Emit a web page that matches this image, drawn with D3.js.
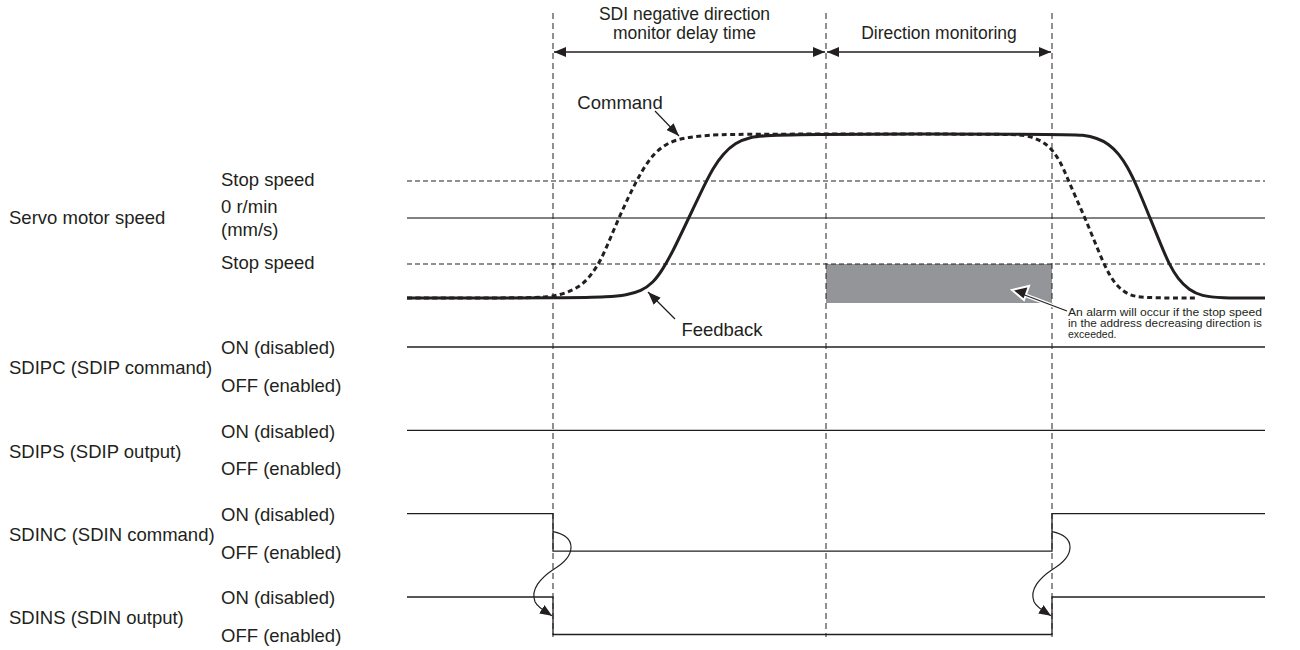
<!DOCTYPE html>
<html>
<head>
<meta charset="utf-8">
<script src="https://cdn.jsdelivr.net/npm/d3@7"></script>
<style>
    body { margin: 0; background: #fff; }
    text { font-family: "Liberation Sans", Arial, sans-serif; fill: #231f20; }
</style>
</head>
<body>
<div id="chart"></div>
<script>
// time axis in ms, speed in r/min (arbitrary plot units)
var eventTimes = [146, 419, 645];
var periodLabels = [["SDI negative direction", "monitor delay time"], ["Direction monitoring"]];

var speedHigh = 84, speedLow = -80;
var stopSpeeds = [37, -46];

var commandData = [[0,-80],[123,-80],[140,-79],[153,-77],[166,-72],[176,-66],[185,-56],[194,-42],[203,-21],[211,-2],
    [221,20],[230,38],[238,52],[246,63],[256,72],[268,78],[283,81],[303,83],[330,84],[603,84],[616,83],[628,80],
    [638,75],[646,67],[653,57],[660,41],[669,20],[678,0],[687,-22],[696,-44],[704,-60],[712,-70],[722,-77],
    [735,-80],[790,-80]];
var feedbackData = [[0,-80],[170,-80],[200,-79],[220,-77],[234,-73],[246,-65],[256,-51],[266,-33],[276,-12],[286,9],
    [296,30],[306,50],[316,64],[328,75],[343,81],[365,84],[660,84],[676,83],[690,80],[702,74],[712,64],[720,52],
    [730,32],[743,0],[754,-27],[762,-46],[771,-61],[782,-72],[795,-78],[812,-80],[858,-80]];

var signalNames = ["SDIPC (SDIP command)", "SDIPS (SDIP output)", "SDINC (SDIN command)", "SDINS (SDIN output)"];
var stateTimes = [0, 146, 645, 858];
var signalStates = [[1,1,1,1],[1,1,1,1],[1,0,1,1],[1,0,1,1]];
var levelNames = ["ON (disabled)", "OFF (enabled)"];

var alarmText = ["An alarm will occur if the stop speed", "in the address decreasing direction is", "exceeded."];

var w = 1300, h = 650;
var ink = "#231f20";
var fs = 18.5;

var x = d3.scaleLinear().domain([0, 858]).range([407, 1265]);
var y = d3.scaleLinear().domain([speedLow, speedHigh]).range([298, 134]);
var row = d3.scaleLinear().domain([0, 3]).range([347, 597]);
var level = d3.scaleLinear().domain([0, 1]).range([37.5, 0]);

var svg = d3.select("#chart").append("svg")
    .attr("width", w)
    .attr("height", h);

var defs = svg.append("defs");
function marker(id, wd, ht) {
    defs.append("marker")
        .attr("id", id)
        .attr("viewBox", "0 0 " + wd + " " + ht)
        .attr("refX", wd).attr("refY", ht / 2)
        .attr("markerWidth", wd).attr("markerHeight", ht)
        .attr("markerUnits", "userSpaceOnUse")
        .attr("orient", "auto-start-reverse")
        .append("path")
        .attr("d", "M0,0L" + wd + "," + (ht / 2) + "L0," + ht + "Z")
        .attr("fill", ink);
}
marker("dimArrow", 12, 10);
marker("callArrow", 13, 10);
marker("curlArrow", 12, 10);

// grey alarm zone
svg.append("rect")
    .attr("x", x(eventTimes[1]))
    .attr("y", y(stopSpeeds[1]))
    .attr("width", x(eventTimes[2]) - x(eventTimes[1]))
    .attr("height", y(speedLow) - y(stopSpeeds[1]) + 5)
    .attr("fill", "#939598");

// speed reference lines
svg.selectAll(".stopLine")
    .data(stopSpeeds)
    .enter().append("line")
    .attr("x1", x(0)).attr("x2", x(858))
    .attr("y1", function (d) { return y(d); })
    .attr("y2", function (d) { return y(d); })
    .attr("stroke", ink).attr("stroke-width", 1)
    .attr("stroke-dasharray", "5,3");

svg.append("line")
    .attr("x1", x(0)).attr("x2", x(858))
    .attr("y1", y(0)).attr("y2", y(0))
    .attr("stroke", "#58595b").attr("stroke-width", 1.3);

// event markers
svg.selectAll(".evt")
    .data(eventTimes)
    .enter().append("line")
    .attr("x1", function (d) { return x(d); })
    .attr("x2", function (d) { return x(d); })
    .attr("y1", 13).attr("y2", 637)
    .attr("stroke", ink).attr("stroke-width", 1)
    .attr("stroke-dasharray", "6,4");

// period dimension arrows and labels
periodLabels.forEach(function (lines, i) {
    var x0 = x(eventTimes[i]), x1 = x(eventTimes[i + 1]);
    var cx = (x0 + x1) / 2 - (lines.length > 1 ? 5 : 0);
    svg.append("line")
        .attr("x1", x0 + 1).attr("x2", x1 - 1)
        .attr("y1", 52).attr("y2", 52)
        .attr("stroke", ink).attr("stroke-width", 1.3)
        .attr("marker-start", "url(#dimArrow)")
        .attr("marker-end", "url(#dimArrow)");
    var t = svg.append("text")
        .attr("text-anchor", "middle")
        .attr("font-size", 17.5);
    lines.forEach(function (s, k) {
        t.append("tspan")
            .attr("x", cx)
            .attr("y", 38.5 - (lines.length - 1 - k) * 18.5)
            .text(s);
    });
});

// speed curves
var line = d3.line()
    .x(function (d) { return x(d[0]); })
    .y(function (d) { return y(d[1]); })
    .curve(d3.curveBasis);

svg.append("path")
    .datum(commandData)
    .attr("d", line)
    .attr("fill", "none")
    .attr("stroke", ink).attr("stroke-width", 3)
    .attr("stroke-dasharray", "5,3.5");

svg.append("path")
    .datum(feedbackData)
    .attr("d", line)
    .attr("fill", "none")
    .attr("stroke", ink).attr("stroke-width", 3);

// callouts
svg.append("line")
    .attr("x1", 655).attr("y1", 111).attr("x2", 679).attr("y2", 136)
    .attr("stroke", ink).attr("stroke-width", 1.2)
    .attr("marker-end", "url(#callArrow)");
svg.append("text").attr("x", 620).attr("y", 109)
    .attr("text-anchor", "middle").attr("font-size", fs).text("Command");

svg.append("line")
    .attr("x1", 675).attr("y1", 319).attr("x2", 648).attr("y2", 292)
    .attr("stroke", ink).attr("stroke-width", 1.2)
    .attr("marker-end", "url(#callArrow)");
svg.append("text").attr("x", 722).attr("y", 336)
    .attr("text-anchor", "middle").attr("font-size", fs).text("Feedback");

svg.append("line")
    .attr("x1", 1067).attr("y1", 311).attr("x2", 1022).attr("y2", 294)
    .attr("stroke", "#fff").attr("stroke-width", 4);
svg.append("path")
    .attr("d", "M1012,290L1029,286L1024,300Z")
    .attr("fill", ink).attr("stroke", "#fff").attr("stroke-width", 2);
svg.append("line")
    .attr("x1", 1067).attr("y1", 311).attr("x2", 1022).attr("y2", 294)
    .attr("stroke", ink).attr("stroke-width", 1.2);

svg.append("text")
    .attr("font-size", 10.5)
    .selectAll("tspan")
    .data(alarmText)
    .enter().append("tspan")
    .attr("x", 1068)
    .attr("y", function (d, i) { return 316 + i * 11; })
    .attr("textLength", function (d, i) { return i < 2 ? 194 : null; })
    .attr("lengthAdjust", "spacingAndGlyphs")
    .text(function (d) { return d; });

// speed labels
svg.append("text").attr("x", 9).attr("y", y(0)).attr("dy", ".35em")
    .attr("font-size", fs).text("Servo motor speed");
var speedLabels = [["Stop speed", y(stopSpeeds[0]) - 1], ["0 r/min", y(0) - 11], ["(mm/s)", y(0) + 12], ["Stop speed", y(stopSpeeds[1]) - 1]];
svg.selectAll(".speedLabel")
    .data(speedLabels)
    .enter().append("text")
    .attr("x", 221)
    .attr("y", function (d) { return d[1]; })
    .attr("dy", ".35em")
    .attr("font-size", fs)
    .text(function (d) { return d[0]; });

// on/off signals
var sigLine = d3.line()
    .x(function (d) { return x(d[0]); })
    .y(function (d) { return d[1]; })
    .curve(d3.curveStepAfter);

signalNames.forEach(function (name, i) {
    var top = row(i);
    var pts = stateTimes.map(function (t, k) { return [t, top + level(signalStates[i][k])]; });
    svg.append("path")
        .datum(pts)
        .attr("d", sigLine)
        .attr("fill", "none")
        .attr("stroke", ink).attr("stroke-width", 1.3);

    svg.append("text").attr("x", 9).attr("y", top + 21).attr("dy", ".35em")
        .attr("font-size", fs).text(name);
    levelNames.forEach(function (s, k) {
        svg.append("text").attr("x", 221).attr("y", top + level(1 - k) + 1).attr("dy", ".35em")
            .attr("font-size", fs).text(s);
    });
});

// command -> output curl arrows
[eventTimes[0], eventTimes[2]].forEach(function (t) {
    var x0 = x(t), y0 = row(2) + 18;
    svg.append("path")
        .attr("d", "M" + x0 + "," + y0 +
            "C" + (x0 + 24) + "," + (y0 + 5) + " " + (x0 + 24) + "," + (y0 + 24) + " " + x0 + "," + (y0 + 38) +
            "C" + (x0 - 12) + "," + (y0 + 46) + " " + (x0 - 23) + "," + (y0 + 58) + " " + (x0 - 18) + "," + (y0 + 70) +
            "C" + (x0 - 15) + "," + (y0 + 76) + " " + (x0 - 9) + "," + (y0 + 79) + " " + (x0 - 1) + "," + (y0 + 84))
        .attr("fill", "none")
        .attr("stroke", ink).attr("stroke-width", 1.2)
        .attr("marker-end", "url(#curlArrow)");
});
</script>
</body>
</html>
